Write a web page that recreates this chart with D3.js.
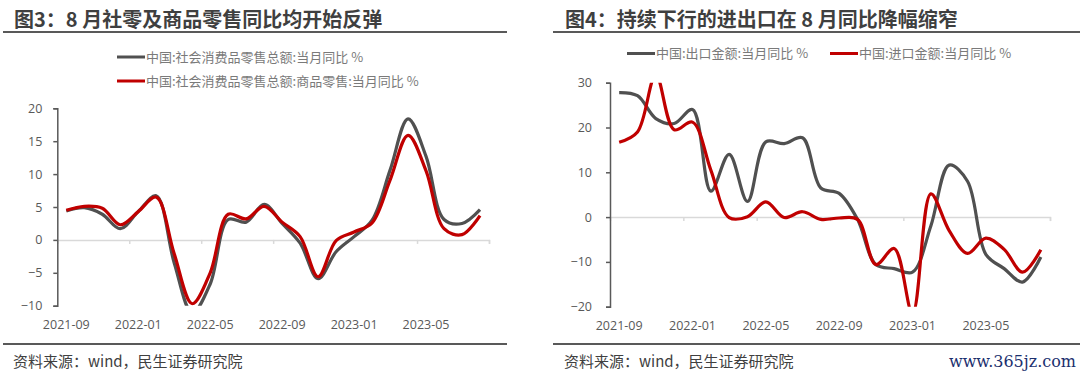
<!DOCTYPE html>
<html>
<head>
<meta charset="utf-8">
<script src="https://cdn.jsdelivr.net/npm/d3@7"></script>
<style>
  body { margin: 0; background: #fff; }
  svg { display: block; }
</style>
</head>
<body>
<div id="chart"></div>
<script>
// months shown on both charts
const months = ["2021-09", "2021-10", "2021-11", "2021-12", "2022-01", "2022-02", "2022-03", "2022-04",
    "2022-05", "2022-06", "2022-07", "2022-08", "2022-09", "2022-10", "2022-11", "2022-12",
    "2023-01", "2023-02", "2023-03", "2023-04", "2023-05", "2023-06", "2023-07", "2023-08"];
const tickMonths = ["2021-09", "2022-01", "2022-05", "2022-09", "2023-01", "2023-05"];

// 图3
const retailTotal = [4.4, 4.9, 3.9, 1.7, 4.3, 6.7, -3.5, -11.1, -6.7, 3.1, 2.7, 5.4,
    2.5, -0.5, -5.9, -1.8, 0.5, 3.0, 10.6, 18.4, 12.7, 3.1, 2.5, 4.6];
const retailGoods = [4.5, 5.1, 4.8, 2.3, 4.3, 6.5, -2.1, -9.7, -5.0, 3.9, 3.2, 5.1,
    2.7, 0.5, -5.6, -0.1, 1.2, 2.6, 9.1, 15.9, 10.5, 1.7, 0.8, 3.7];
const leftTicks = [-10, -5, 0, 5, 10, 15, 20];

// 图4
const exportYoy = [27.8, 27.1, 22.0, 20.9, 24.0, 5.8, 14.0, 3.5, 16.8, 16.4, 17.7, 6.5,
    5.3, -0.5, -10.6, -11.5, -12.3, -2.0, 11.6, 8.0, -8.3, -11.5, -14.5, -8.9];
const importYoy = [16.7, 19.0, 31.7, 19.5, 21.2, 10.5, -0.1, 0.1, 3.4, -0.1, 1.2, -0.5,
    -0.2, -0.5, -10.6, -7.0, -21.5, 5.2, -3.0, -8.1, -4.7, -7.2, -12.3, -7.3];
const rightTicks = [-20, -10, 0, 10, 20, 30];

const GRAY = "#505050", RED = "#c00000";
const FONT = "'Open Sans','Noto Sans CJK SC',sans-serif";
const CJK = "'Noto Sans CJK SC',sans-serif";

const svg = d3.select("#chart").append("svg")
    .attr("width", 1080)
    .attr("height", 375)
    .style("font-family", FONT);

function drawPanel(cfg) {
    const g = svg.append("g");

    // title + rule under it
    g.append("text")
        .attr("x", cfg.titleX).attr("y", 27)
        .attr("font-family", CJK).attr("font-weight", 700)
        .attr("font-size", 20).attr("fill", "#3f3f3f")
        .text(cfg.title);
    g.append("line")
        .attr("x1", cfg.ruleX[0]).attr("x2", cfg.ruleX[1])
        .attr("y1", 32).attr("y2", 32)
        .attr("stroke", "#595959").attr("stroke-width", 2);

    // footer
    g.append("line")
        .attr("x1", cfg.ruleX[0]).attr("x2", cfg.ruleX[1])
        .attr("y1", 344).attr("y2", 344)
        .attr("stroke", "#595959").attr("stroke-width", 2);
    g.append("text")
        .attr("x", cfg.titleX - 1).attr("y", 367)
        .attr("font-family", CJK).attr("font-size", 15).attr("fill", "#404040")
        .text("资料来源：wind，民生证券研究院");

    // scales
    const x = d3.scaleBand().domain(months).range(cfg.xRange).padding(0);
    const xEdge = d3.scaleLinear().domain([0, months.length]).range(cfg.xRange);
    const y = d3.scaleLinear().domain(cfg.yDomain).range(cfg.yRange);

    // zero line with ticks at every 4th month boundary
    const zeroAxis = g.append("g")
        .attr("transform", `translate(0,${y(0)})`)
        .call(d3.axisBottom(xEdge).tickValues([4, 8, 12, 16, 20, 24]).tickSize(4).tickFormat(""));
    zeroAxis.select(".domain").attr("stroke", "#d9d9d9").attr("stroke-width", 1.5);
    zeroAxis.selectAll(".tick line").attr("stroke", "#d9d9d9").attr("stroke-width", 1.5);

    // month labels at bottom
    const labelAxis = g.append("g")
        .attr("transform", `translate(0,${cfg.yRange[0]})`)
        .call(d3.axisBottom(x).tickValues(tickMonths).tickSize(0).tickPadding(14));
    labelAxis.select(".domain").remove();
    labelAxis.selectAll("text")
        .attr("font-family", FONT).attr("font-size", 12.5).attr("fill", "#595959");

    // y axis
    const yAxis = g.append("g")
        .attr("transform", `translate(${cfg.xRange[0]},0)`)
        .call(d3.axisLeft(y).tickValues(cfg.ticks).tickSize(4).tickPadding(cfg.yPad));
    yAxis.select(".domain").attr("stroke", "#595959").attr("stroke-width", 1.5);
    yAxis.selectAll(".tick line").attr("stroke", "#595959").attr("stroke-width", 1.5);
    yAxis.selectAll("text")
        .attr("font-family", FONT).attr("font-size", 12.5).attr("fill", "#595959");

    // clip lines to the plot area
    const clipId = "clip-" + cfg.id;
    g.append("clipPath").attr("id", clipId)
        .append("rect")
        .attr("x", cfg.xRange[0]).attr("y", cfg.yRange[1])
        .attr("width", cfg.xRange[1] - cfg.xRange[0])
        .attr("height", cfg.yRange[0] - cfg.yRange[1]);

    const line = d3.line()
        .x((d, i) => x(months[i]) + x.bandwidth() / 2)
        .y(d => y(d))
        .curve(d3.curveCatmullRom.alpha(0.5));

    cfg.series.forEach(s => {
        g.append("path")
            .datum(s.values)
            .attr("clip-path", `url(#${clipId})`)
            .attr("fill", "none")
            .attr("stroke", s.color)
            .attr("stroke-width", 3.2)
            .attr("stroke-linejoin", "round")
            .attr("d", line);
    });

    // legend
    cfg.series.forEach(s => {
        g.append("line")
            .attr("x1", s.lx).attr("x2", s.lx + 28)
            .attr("y1", s.ly).attr("y2", s.ly)
            .attr("stroke", s.color).attr("stroke-width", 3);
        g.append("text")
            .attr("x", s.lx + 29).attr("y", s.ly + 4.5)
            .attr("font-family", CJK).attr("font-size", 13).attr("fill", "#7a7a7a")
            .text(s.name);
    });
}

drawPanel({
    id: "left",
    title: "图3：8 月社零及商品零售同比均开始反弹",
    titleX: 14,
    ruleX: [3, 507],
    xRange: [57.3, 489],
    yRange: [305.7, 108.3],
    yDomain: [-10, 20],
    ticks: leftTicks,
    yPad: 11,
    series: [
        { name: "中国:社会消费品零售总额:当月同比 %", values: retailTotal, color: GRAY, lx: 117, ly: 57 },
        { name: "中国:社会消费品零售总额:商品零售:当月同比 %", values: retailGoods, color: RED, lx: 117, ly: 81 }
    ]
});

drawPanel({
    id: "right",
    title: "图4：持续下行的进出口在 8 月同比降幅缩窄",
    titleX: 565,
    ruleX: [553, 1080],
    xRange: [610, 1050],
    yRange: [306.7, 82.7],
    yDomain: [-20, 30],
    ticks: rightTicks,
    yPad: 14,
    series: [
        { name: "中国:出口金额:当月同比 %", values: exportYoy, color: GRAY, lx: 627, ly: 53.5 },
        { name: "中国:进口金额:当月同比 %", values: importYoy, color: RED, lx: 830, ly: 53.5 }
    ]
});

// watermark
svg.append("text")
    .attr("x", 1076).attr("y", 367)
    .attr("text-anchor", "end")
    .attr("font-family", "'DejaVu Serif',serif")
    .attr("font-size", 16)
    .attr("fill", "#1b2f6e")
    .text("www.365jz.com");
</script>
</body>
</html>
